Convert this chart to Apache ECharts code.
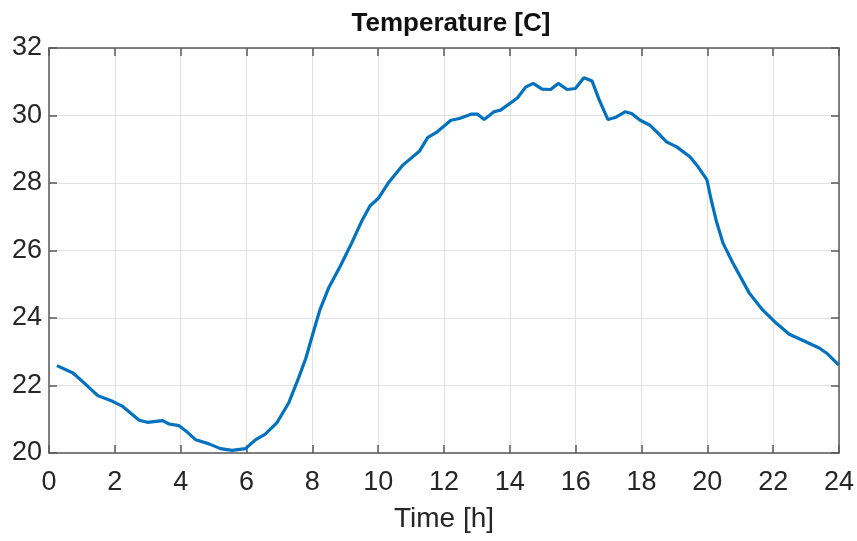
<!DOCTYPE html>
<html>
<head>
<meta charset="utf-8">
<script src="https://cdn.jsdelivr.net/npm/echarts@6/dist/echarts.min.js"></script>
<style>
html,body{margin:0;padding:0;background:#fff;}
#chart{width:857px;height:541px;}
</style>
</head>
<body>
<div id="chart"></div>
<script>
const hours = [0.24,0.73,1.13,1.48,1.93,2.24,2.74,2.99,3.45,3.65,3.95,4.2,4.46,4.86,5.21,5.56,5.97,6.27,6.57,6.92,7.28,7.58,7.8,8.08,8.23,8.49,8.84,9.19,9.49,9.75,10.0,10.30,10.75,11.26,11.51,11.76,12.21,12.47,12.82,13.02,13.22,13.52,13.72,14.23,14.48,14.71,14.98,15.24,15.47,15.74,15.99,16.25,16.50,16.70,16.98,17.20,17.50,17.70,17.96,18.26,18.51,18.76,19.07,19.47,19.72,19.99,20.12,20.28,20.48,20.78,21.28,21.68,22.09,22.49,22.89,23.40,23.65,23.99];
const temps = [22.59,22.37,22.02,21.70,21.53,21.38,20.97,20.91,20.96,20.86,20.81,20.62,20.39,20.27,20.13,20.08,20.13,20.39,20.56,20.89,21.48,22.22,22.80,23.75,24.24,24.88,25.52,26.21,26.85,27.32,27.54,27.99,28.53,28.95,29.35,29.49,29.86,29.91,30.04,30.04,29.88,30.11,30.16,30.52,30.84,30.95,30.78,30.77,30.95,30.77,30.80,31.12,31.02,30.50,29.88,29.94,30.11,30.06,29.86,29.71,29.47,29.22,29.07,28.78,28.48,28.09,27.49,26.85,26.21,25.62,24.73,24.24,23.85,23.52,23.34,23.11,22.94,22.61];
const xTicks = {min:0, max:24, interval:2};
const yTicks = {min:20, max:32, interval:2};
const titleText = 'Temperature [C]';
const xLabel = 'Time [h]';

const font = '"Liberation Sans", Arial, sans-serif';
const axisCol = '#5a5a5a';
const chart = echarts.init(document.getElementById('chart'));
chart.setOption({
  animation:false,
  title:{text:titleText,left:446,top:6,textAlign:'center',
    textStyle:{fontFamily:font,fontWeight:'bold',fontSize:26,color:'#111'}},
  grid:{left:49,right:14,top:48,bottom:88,containLabel:false},
  xAxis:[{type:'value',min:xTicks.min,max:xTicks.max,interval:xTicks.interval,position:'bottom',
    name:xLabel,nameLocation:'middle',nameGap:52,
    nameTextStyle:{fontFamily:font,fontSize:28,color:'#262626'},
    axisLine:{onZero:false,lineStyle:{color:axisCol,width:1.5}},
    axisTick:{inside:true,length:8,lineStyle:{color:axisCol,width:1.5}},
    axisLabel:{fontFamily:font,fontSize:27,color:'#262626',margin:16},
    splitLine:{show:true,lineStyle:{color:'#e2e2e2',width:1}}},
   {type:'value',min:xTicks.min,max:xTicks.max,interval:xTicks.interval,position:'top',
    axisLine:{onZero:false,lineStyle:{color:axisCol,width:1.5}},
    axisTick:{inside:true,length:8,lineStyle:{color:axisCol,width:1.5}},
    axisLabel:{show:false},splitLine:{show:false}}],
  yAxis:[{type:'value',min:yTicks.min,max:yTicks.max,interval:yTicks.interval,position:'left',
    axisLine:{show:true,onZero:false,lineStyle:{color:axisCol,width:1.5}},
    axisTick:{show:true,inside:true,length:8,lineStyle:{color:axisCol,width:1.5}},
    axisLabel:{fontFamily:font,fontSize:27,color:'#262626',margin:7},
    splitLine:{show:true,lineStyle:{color:'#e2e2e2',width:1}}},
   {type:'value',min:yTicks.min,max:yTicks.max,interval:yTicks.interval,position:'right',
    axisLine:{show:true,onZero:false,lineStyle:{color:axisCol,width:1.5}},
    axisTick:{show:true,inside:true,length:8,lineStyle:{color:axisCol,width:1.5}},
    axisLabel:{show:false},splitLine:{show:false}}],
  series:[{type:'line',xAxisIndex:0,yAxisIndex:0,
    data:hours.map((h,i)=>[h,temps[i]]),
    showSymbol:false,smooth:false,
    lineStyle:{color:'#0072BD',width:3.2},itemStyle:{color:'#0072BD'}}]
});
</script>
</body>
</html>
